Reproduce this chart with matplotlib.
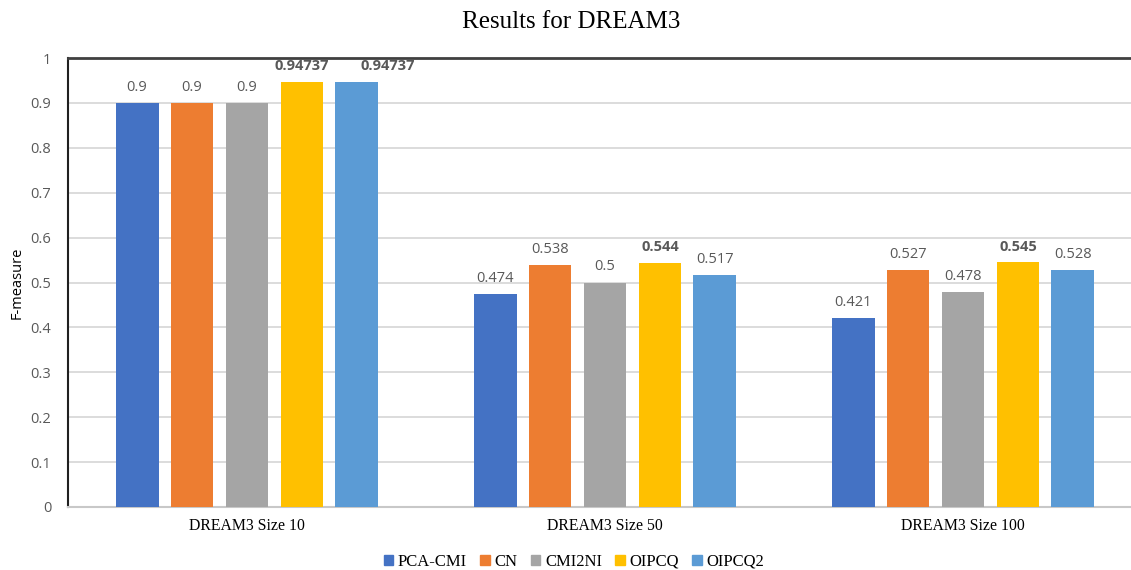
import matplotlib.pyplot as plt
import numpy as np

# data
groups = ['DREAM3 Size 10', 'DREAM3 Size 50', 'DREAM3 Size 100']
methods = ['PCA-CMI', 'CN', 'CMI2NI', 'OIPCQ', 'OIPCQ2']
pca_cmi = [0.9, 0.474, 0.421]
cn = [0.9, 0.538, 0.527]
cmi2ni = [0.9, 0.5, 0.478]
oipcq = [0.94737, 0.544, 0.545]
oipcq2 = [0.94737, 0.517, 0.528]
labels_txt = [
    ['0.9', '0.474', '0.421'],
    ['0.9', '0.538', '0.527'],
    ['0.9', '0.5', '0.478'],
    ['0.94737', '0.544', '0.545'],
    ['0.94737', '0.517', '0.528'],
]
bold_labels = {(3, 0), (4, 0), (3, 1), (3, 2)}

series = [pca_cmi, cn, cmi2ni, oipcq, oipcq2]
colors = ['#4472C4', '#ED7D31', '#A5A5A5', '#FFC000', '#5B9BD5']

fig = plt.figure(figsize=(11.31, 5.70), dpi=100)
ax = fig.add_axes([68 / 1131, 1 - 507 / 570, 1074 / 1131, 449 / 570])

x = np.arange(len(groups))
width = 0.12
step = 0.1536

for i, (vals, col, name) in enumerate(zip(series, colors, methods)):
    pos = x + (i - 2) * step
    ax.bar(pos, vals, width, color=col, label=name, zorder=3)
    for j, v in enumerate(vals):
        # the second 0.94737 label is nudged right so it does not collide
        dx = 22 if (i, j) == (4, 0) else 0
        ax.annotate(labels_txt[i][j], (pos[j], v), xytext=(dx, 6), textcoords='offset points',
                    ha='center', va='bottom', fontsize=10.5, color='#595959',
                    family='Open Sans',
                    fontweight='bold' if (i, j) in bold_labels else 'normal')

ax.set_xlim(-0.5, 2.5)
ax.set_ylim(0, 1)
ax.set_yticks(np.arange(0, 1.01, 0.1))
ax.set_yticklabels(['0', '0.1', '0.2', '0.3', '0.4', '0.5', '0.6', '0.7', '0.8', '0.9', '1'])
ax.set_xticks(x)
ax.set_xticklabels(groups, family='Liberation Serif', fontsize=11.3)
ax.tick_params(axis='y', length=0, labelsize=10.5, colors='#595959', pad=12)
ax.tick_params(axis='x', length=0, pad=8)
for t in ax.get_yticklabels():
    t.set_family('Open Sans')
ax.grid(axis='y', color='#d9d9d9', linewidth=1.3, zorder=0)

ax.spines['top'].set_color('#404040')
ax.spines['top'].set_linewidth(2)
ax.spines['left'].set_color('#202020')
ax.spines['left'].set_linewidth(1.5)
ax.spines['bottom'].set_color('#c8c8c8')
ax.spines['bottom'].set_linewidth(1.5)
ax.spines['right'].set_visible(False)

ax.set_ylabel('F-measure', family='Open Sans', fontsize=10.5, labelpad=4)
fig.text(571 / 1131, 1 - 22 / 570, 'Results for DREAM3', ha='center', va='center',
         family='Liberation Serif', fontsize=18)

handles = [plt.Rectangle((0, 0), 1, 1, color=c) for c in colors]
fig.legend(handles, methods, loc='center', bbox_to_anchor=(574 / 1131, 1 - 562 / 570),
           ncol=5, frameon=False, prop={'family': 'Liberation Serif', 'size': 12},
           handlelength=0.55, handleheight=0.55, handletextpad=0.3, columnspacing=0.8)

fig.savefig('out.png', dpi=100)
